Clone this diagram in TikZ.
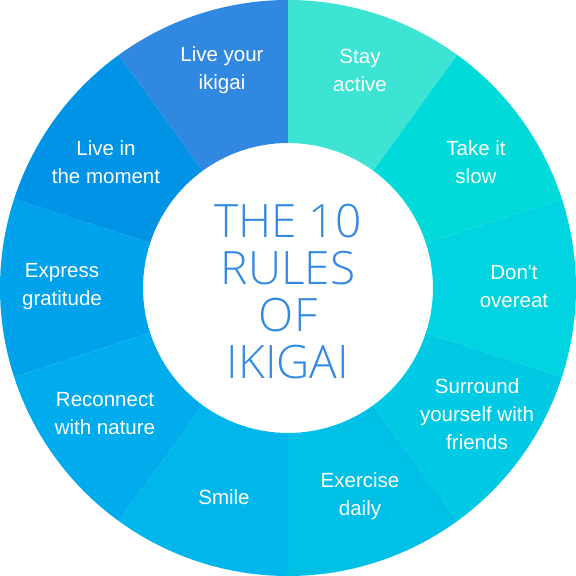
\documentclass[tikz,border=0pt]{standalone}
\usepackage{fontspec}
\setmainfont{Liberation Sans}[Ligatures=TeXOff]
\newfontfamily\titlefont{Open Sans Light}
\definecolor{cA}{HTML}{3DE3D3}
\definecolor{cB}{HTML}{00DBD9}
\definecolor{cC}{HTML}{00D4E0}
\definecolor{cD}{HTML}{00C9E3}
\definecolor{cE}{HTML}{00C0E6}
\definecolor{cF}{HTML}{00B6EA}
\definecolor{cG}{HTML}{00ACEC}
\definecolor{cH}{HTML}{00A2EC}
\definecolor{cI}{HTML}{0093E6}
\definecolor{cJ}{HTML}{3188E0}
\definecolor{titleblue}{HTML}{3388E0}
\tikzset{
  seglabel/.style={text=white,align=center,font=\fontsize{20.5}{28}\selectfont,inner sep=0pt},
  titlelabel/.style={text=titleblue,align=center,font=\titlefont\fontsize{46}{47}\selectfont,inner sep=0pt}
}
\newcommand{\ringseg}[3]{\fill[#3] (#1:288pt) arc[start angle=#1,end angle=#2,radius=288pt] -- (#2:145pt) arc[start angle=#2,end angle=#1,radius=145pt] -- cycle;}
\begin{document}
\begin{tikzpicture}[x=1pt,y=1pt]
\useasboundingbox (-288,-288) rectangle (288,288);
\ringseg{54}{90}{cA}
\ringseg{18}{54}{cB}
\ringseg{-18}{18}{cC}
\ringseg{-54}{-18}{cD}
\ringseg{-90}{-54}{cE}
\ringseg{-126}{-90}{cF}
\ringseg{-162}{-126}{cG}
\ringseg{162}{198}{cH}
\ringseg{126}{162}{cI}
\ringseg{90}{126}{cJ}
\node[seglabel] (l1) at (72,218) {Stay\\active};
\node[seglabel] (l2) at (188,126) {Take it\\slow};
\node[seglabel] (l3) at (226,1) {Don't\\overeat};
\node[seglabel] (l4) at (189,-126) {Surround\\yourself with\\friends};
\node[seglabel] (l5) at (72,-208) {Exercise\\daily};
\node[seglabel] (l6) at (-64,-209) {Smile};
\node[seglabel] (l7) at (-183,-126) {Reconnect\\with nature};
\node[seglabel] (l8) at (-226,1) {Express\\gratitude};
\node[seglabel] (l9) at (-182,126) {Live in\\the moment};
\node[seglabel] (l10) at (-66,218) {Live your\\ikigai};
\node[titlelabel] (title) at (0,-4) {THE 10\\RULES\\OF\\IKIGAI};
\end{tikzpicture}
\end{document}
